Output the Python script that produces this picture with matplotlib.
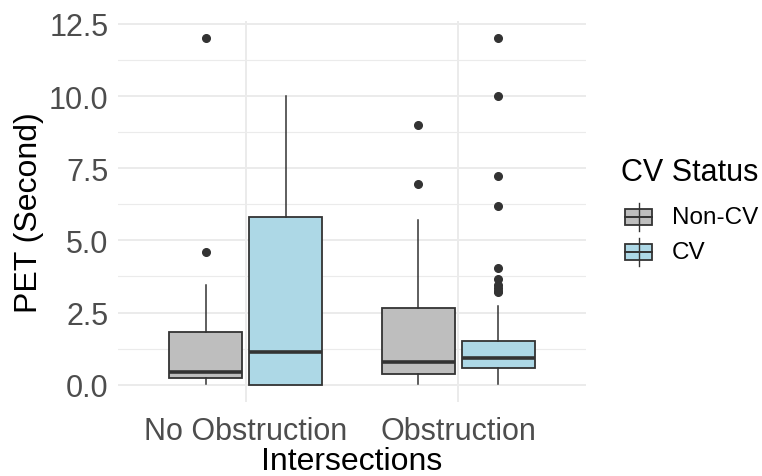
import matplotlib
matplotlib.use("Agg")
import matplotlib.pyplot as plt
from matplotlib.patches import Rectangle

plt.rcParams['font.family'] = ['Liberation Sans', 'DejaVu Sans']

# Summary statistics of PET per group (seconds)
intersections = ["No Obstruction", "Obstruction"]
cv_status = ["Non-CV", "CV"]
fills = ["#BEBEBE", "#ADD8E6"]

# order: (No Obstruction, Non-CV), (No Obstruction, CV), (Obstruction, Non-CV), (Obstruction, CV)
whisker_low = [0.03, 0.0, 0.03, 0.03]
q1 = [0.22, 0.0, 0.37, 0.59]
median = [0.45, 1.14, 0.77, 0.93]
q3 = [1.84, 5.80, 2.66, 1.52]
whisker_high = [3.47, 10.0, 5.72, 2.73]
outliers = [
    [12.0, 4.61],
    [],
    [9.0, 6.97],
    [12.0, 10.0, 7.22, 6.18, 4.04, 3.67, 3.45, 3.35, 3.25, 3.2],
]
group_of = [0, 0, 1, 1]
status_of = [0, 1, 0, 1]

y_ticks = [0.0, 2.5, 5.0, 7.5, 10.0, 12.5]

fig = plt.figure(figsize=(7.62, 4.77), dpi=100)
ax = fig.add_axes([118 / 762, 1 - 403 / 477, 468 / 762, 381 / 477])

stats = []
for i in range(4):
    stats.append(dict(whislo=whisker_low[i], q1=q1[i], med=median[i], q3=q3[i],
                      whishi=whisker_high[i], fliers=outliers[i]))

dodge = 0.1875
positions = [group_of[i] + 1 + (dodge if status_of[i] else -dodge) for i in range(4)]

edge = "#333333"
bp = ax.bxp(stats, positions=positions, widths=0.345, patch_artist=True, showcaps=False,
            boxprops=dict(edgecolor=edge, linewidth=1.3),
            whiskerprops=dict(color=edge, linewidth=1.1),
            medianprops=dict(color=edge, linewidth=2.6, solid_capstyle='butt'),
            flierprops=dict(marker='o', markerfacecolor=edge, markeredgecolor=edge, markersize=5.5),
            zorder=3)
for i, patch in enumerate(bp['boxes']):
    patch.set_facecolor(fills[status_of[i]])

ax.set_xlim(0.4, 2.6)
ax.set_ylim(-0.6, 12.6)
ax.set_xticks([1, 2])
ax.set_xticklabels(intersections)
ax.set_yticks(y_ticks)
ax.set_yticklabels([f"{v:.1f}" for v in y_ticks])
ax.set_yticks([1.25, 3.75, 6.25, 8.75, 11.25], minor=True)

ax.grid(True, which='major', color="#EBEBEB", linewidth=1.4)
ax.grid(True, which='minor', axis='y', color="#EBEBEB", linewidth=0.8)
ax.set_axisbelow(True)
for s in ax.spines.values():
    s.set_visible(False)
ax.tick_params(axis='both', which='both', length=0, labelsize=22, labelcolor="#4D4D4D")
ax.tick_params(axis='x', pad=10)
ax.tick_params(axis='y', pad=7)

ax.set_xlabel("Intersections", fontsize=23, color="black", labelpad=0)
ax.set_ylabel("PET (Second)", fontsize=23, color="black", labelpad=3)

# legend drawn on its own axes in pixel-like units
lax = fig.add_axes([600 / 762, 1 - 280 / 477, 162 / 762, 130 / 477])
lax.set_xlim(600, 762)
lax.set_ylim(280, 150)
lax.axis('off')
lax.text(621, 173, "CV Status", fontsize=22, va='center', ha='left')
for k, (lab, col) in enumerate(zip(cv_status, fills)):
    cy = 218 + k * 35
    lax.plot([638.5, 638.5], [cy - 14, cy + 14], color=edge, lw=1.0)
    lax.add_patch(Rectangle((625, cy - 8), 27, 16, facecolor=col, edgecolor=edge, lw=1.3))
    lax.plot([625, 652], [cy, cy], color=edge, lw=1.4)
    lax.text(672, cy, lab, fontsize=17.5, va='center', ha='left', color="black")

fig.savefig("out.png", dpi=100)
